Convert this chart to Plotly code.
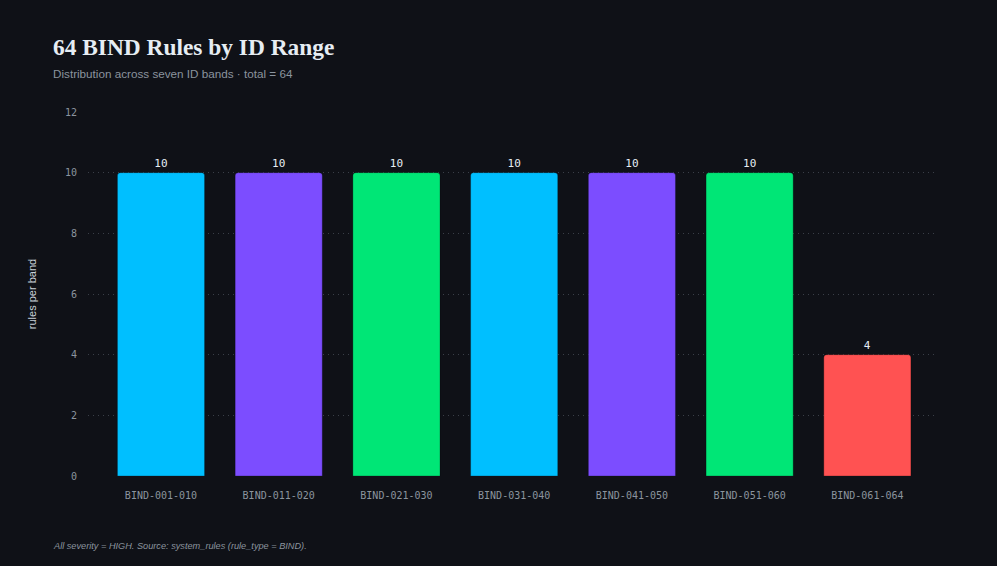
import plotly.graph_objects as go

categories = ["BIND-001-010", "BIND-011-020", "BIND-021-030", "BIND-031-040",
              "BIND-041-050", "BIND-051-060", "BIND-061-064"]
counts = [10, 10, 10, 10, 10, 10, 4]
bar_colors = ["#00bfff", "#7c4dff", "#00e676", "#00bfff", "#7c4dff", "#00e676", "#ff5252"]
y_ticks = [0, 2, 4, 6, 8, 10, 12]

BG = "#0f1117"
MONO = "DejaVu Sans Mono"
SANS = "Liberation Sans, Arial, sans-serif"

fig = go.Figure(go.Bar(
    x=categories, y=counts,
    marker=dict(color=bar_colors, cornerradius=3, line=dict(color="rgba(0,0,0,0.25)", width=1)),
    text=[str(v) for v in counts], textposition="outside",
    textfont=dict(family=MONO, size=11, color="#e6edf3"),
    cliponaxis=False,
    hoverinfo="skip",
))

fig.update_layout(
    width=997, height=566,
    paper_bgcolor=BG, plot_bgcolor=BG,
    margin=dict(l=88, r=59, t=112, b=90),
    bargap=0.26,
    showlegend=False,
    title=dict(
        text="<b>64 BIND Rules by ID Range</b>",
        font=dict(family="Liberation Serif, Times New Roman, serif", size=23.4, color="#e6edf3"),
        x=53/997, xanchor="left", xref="container",
        y=1-47/566, yanchor="middle", yref="container",
    ),
    annotations=[
        dict(text="Distribution across seven ID bands · total = 64",
             xref="paper", yref="paper", x=(51-88)/850, y=1+(112-74)/364,
             xanchor="left", yanchor="middle", showarrow=False,
             font=dict(family=SANS, size=11.7, color="#8b949e")),
        dict(text="<i>All severity = HIGH. Source: system_rules (rule_type = BIND).</i>",
             xref="paper", yref="paper", x=(51-88)/850, y=-(546-476)/364,
             xanchor="left", yanchor="middle", showarrow=False,
             font=dict(family=SANS, size=9.2, color="#8b949e")),
    ],
    xaxis=dict(
        range=[-0.62, 6.6], showgrid=False, zeroline=False, showline=False,
        tickfont=dict(family=MONO, size=10, color="#8b949e"),
        ticks="", ticklabelstandoff=12,
    ),
    yaxis=dict(
        range=[0, 12], tickvals=y_ticks,
        showgrid=True, gridcolor="#3a3f48", griddash="1px,4px", gridwidth=1,
        zeroline=False, showline=False, ticks="",
        tickfont=dict(family=MONO, size=10, color="#8b949e"),
        ticklabelstandoff=10,
        title=dict(text="rules per band", font=dict(family=SANS, size=11, color="#c9d1d9"), standoff=26),
    ),
)

fig.write_html("out.html", config={"displayModeBar": False},
               post_script="document.body.style.margin='0';document.body.style.overflow='hidden';")
